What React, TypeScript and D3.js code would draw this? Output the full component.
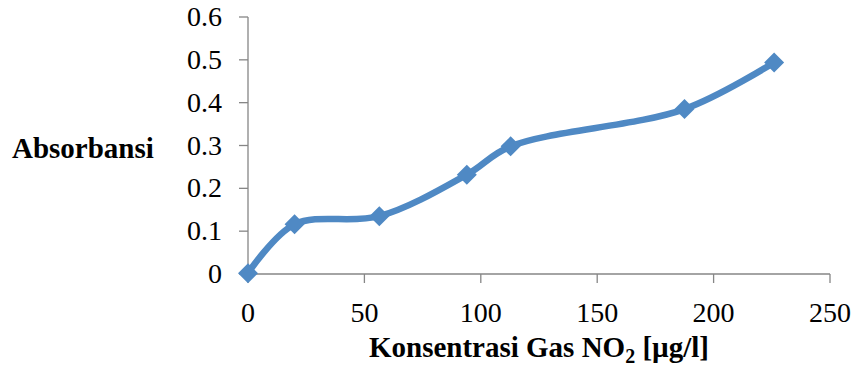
import React from "react";
import * as d3 from "d3";

const concentration = [0, 20, 56.4, 94, 112.8, 187.5, 226];
const absorbance = [0.002, 0.116, 0.135, 0.232, 0.298, 0.385, 0.494];
const xTicks = [0, 50, 100, 150, 200, 250];
const yTicks = [0, 0.1, 0.2, 0.3, 0.4, 0.5, 0.6];

const W = 855;
const H = 376;
const left = 248;
const right = 830;
const top = 17;
const bottom = 274;
const color = "#4f89c4";
const axisColor = "#868686";
const font = "'Liberation Serif', 'Times New Roman', serif";

export default function App() {
  const x = d3.scaleLinear().domain([0, 250]).range([left, right]);
  const y = d3.scaleLinear().domain([0, 0.6]).range([bottom, top]);
  const data = concentration.map((c, i) => [c, absorbance[i]] as [number, number]);
  const line = d3
    .line<[number, number]>()
    .x((d) => x(d[0]))
    .y((d) => y(d[1]))
    .curve(d3.curveCatmullRom.alpha(0.5));
  const s = 10;
  return (
    <svg width={W} height={H} style={{ position: "absolute", left: 0, top: 0 }}>
      <rect width={W} height={H} fill="#fff" />
      <line x1={left} x2={left} y1={top} y2={bottom} stroke={axisColor} strokeWidth={1.3} />
      {yTicks.map((t) => (
        <g key={"y" + t}>
          <line x1={left - 9} x2={left} y1={y(t)} y2={y(t)} stroke={axisColor} strokeWidth={1.3} />
          <text x={222} y={y(t) + 9} textAnchor="end" fontFamily={font} fontSize={28} fill="#000">
            {String(t)}
          </text>
        </g>
      ))}
      <line x1={left} x2={right} y1={bottom} y2={bottom} stroke={axisColor} strokeWidth={1.3} />
      {xTicks.map((t) => (
        <g key={"x" + t}>
          <line x1={x(t)} x2={x(t)} y1={bottom} y2={bottom + 9} stroke={axisColor} strokeWidth={1.3} />
          <text x={x(t)} y={322} textAnchor="middle" fontFamily={font} fontSize={28} fill="#000">
            {String(t)}
          </text>
        </g>
      ))}
      <text x={12} y={158} fontFamily={font} fontSize={29} fontWeight="bold" fill="#000">
        Absorbansi
      </text>
      <text x={(left + right) / 2} y={357} textAnchor="middle" fontFamily={font} fontSize={29} fontWeight="bold" fill="#000">
        Konsentrasi Gas NO<tspan fontSize={20} dy={6}>2</tspan>
        <tspan dy={-6}> [µg/l]</tspan>
      </text>
      <path d={line(data) || ""} fill="none" stroke={color} strokeWidth={6.5} strokeLinejoin="round" strokeLinecap="round" />
      {data.map((d, i) => (
        <path
          key={i}
          d={`M${x(d[0])},${y(d[1]) - s}L${x(d[0]) + s},${y(d[1])}L${x(d[0])},${y(d[1]) + s}L${x(d[0]) - s},${y(d[1])}Z`}
          fill={color}
        />
      ))}
    </svg>
  );
}
